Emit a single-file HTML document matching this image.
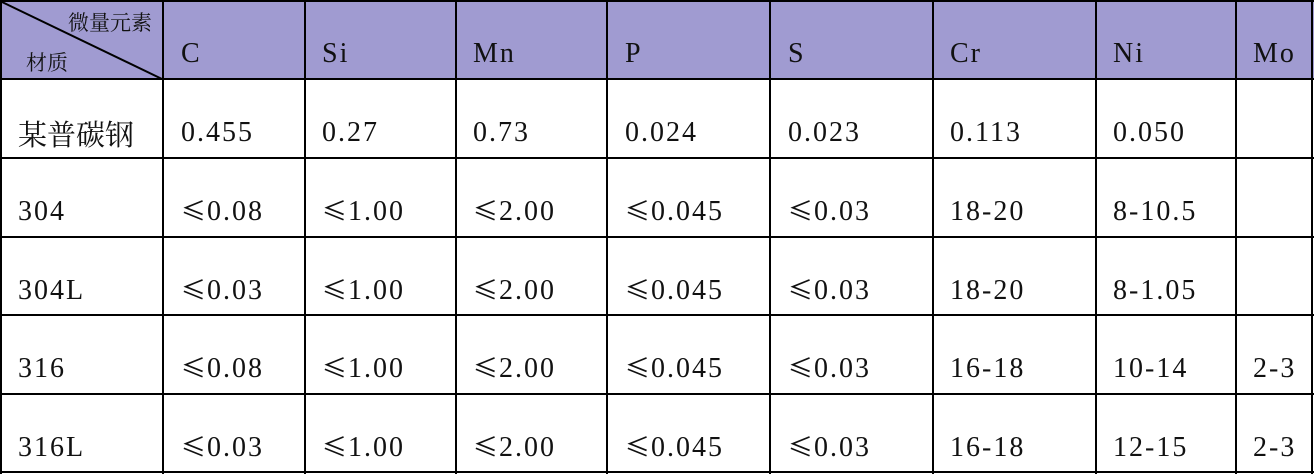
<!DOCTYPE html>
<html><head><meta charset="utf-8"><style>
body{margin:0;width:1314px;height:474px;background:#fff;position:relative;overflow:hidden}
.h{position:absolute;left:0;top:0;width:1314px;height:80px;background:#a09bd1}
.v,.r{position:absolute;background:#000}
.v{width:2px;top:0;height:474px}
.r{height:2px;left:0;width:1314px}
.t{position:absolute;font-family:"Liberation Serif","Noto Serif CJK SC",serif;font-size:28px;letter-spacing:2px;color:#111;line-height:30px;white-space:nowrap}
.c{font-family:"Noto Serif CJK SC","Noto Sans CJK SC",serif;letter-spacing:0}
.le{font-family:"Noto Sans CJK SC",sans-serif;font-size:25px;line-height:1;letter-spacing:1px}
</style></head><body>
<div class="h"></div>
<div class="v" style="left:0"></div><div class="v" style="left:162px"></div><div class="v" style="left:304px"></div><div class="v" style="left:455px"></div><div class="v" style="left:606px"></div><div class="v" style="left:769px"></div><div class="v" style="left:932px"></div><div class="v" style="left:1095px"></div><div class="v" style="left:1235px"></div><div class="v" style="left:1311px"></div>
<div class="r" style="top:0"></div><div class="r" style="top:78px"></div><div class="r" style="top:157px"></div><div class="r" style="top:236px"></div><div class="r" style="top:314px"></div><div class="r" style="top:393px"></div><div class="r" style="top:471px"></div>
<svg style="position:absolute;left:0;top:0" width="165" height="80"><line x1="2" y1="2" x2="162" y2="79" stroke="#000" stroke-width="2"/></svg>
<div class="t c" style="left:68px;top:7px;font-size:21px">微量元素</div>
<div class="t c" style="left:26px;top:47px;font-size:21px">材质</div>
<div class="t" style="left:181px;top:39px">C</div><div class="t" style="left:322px;top:39px">Si</div><div class="t" style="left:473px;top:39px">Mn</div><div class="t" style="left:625px;top:39px">P</div><div class="t" style="left:788px;top:39px">S</div><div class="t" style="left:950px;top:39px">Cr</div><div class="t" style="left:1113px;top:39px">Ni</div><div class="t" style="left:1253px;top:39px">Mo</div>
<div class="t c" style="left:18px;top:117px;font-size:29px;line-height:34px">某普碳钢</div>
<div class="t" style="left:181px;top:118px">0.455</div><div class="t" style="left:322px;top:118px">0.27</div><div class="t" style="left:473px;top:118px">0.73</div><div class="t" style="left:625px;top:118px">0.024</div><div class="t" style="left:788px;top:118px">0.023</div><div class="t" style="left:950px;top:118px">0.113</div><div class="t" style="left:1113px;top:118px">0.050</div>

<div class="t" style="left:18px;top:197px">304</div><div class="t" style="left:181px;top:197px"><span class="le">≤</span>0.08</div><div class="t" style="left:322px;top:197px"><span class="le">≤</span>1.00</div><div class="t" style="left:473px;top:197px"><span class="le">≤</span>2.00</div><div class="t" style="left:625px;top:197px"><span class="le">≤</span>0.045</div><div class="t" style="left:788px;top:197px"><span class="le">≤</span>0.03</div><div class="t" style="left:950px;top:197px">18-20</div><div class="t" style="left:1113px;top:197px">8-10.5</div>

<div class="t" style="left:18px;top:276px">304L</div><div class="t" style="left:181px;top:276px"><span class="le">≤</span>0.03</div><div class="t" style="left:322px;top:276px"><span class="le">≤</span>1.00</div><div class="t" style="left:473px;top:276px"><span class="le">≤</span>2.00</div><div class="t" style="left:625px;top:276px"><span class="le">≤</span>0.045</div><div class="t" style="left:788px;top:276px"><span class="le">≤</span>0.03</div><div class="t" style="left:950px;top:276px">18-20</div><div class="t" style="left:1113px;top:276px">8-1.05</div>

<div class="t" style="left:18px;top:354px">316</div><div class="t" style="left:181px;top:354px"><span class="le">≤</span>0.08</div><div class="t" style="left:322px;top:354px"><span class="le">≤</span>1.00</div><div class="t" style="left:473px;top:354px"><span class="le">≤</span>2.00</div><div class="t" style="left:625px;top:354px"><span class="le">≤</span>0.045</div><div class="t" style="left:788px;top:354px"><span class="le">≤</span>0.03</div><div class="t" style="left:950px;top:354px">16-18</div><div class="t" style="left:1113px;top:354px">10-14</div><div class="t" style="left:1253px;top:354px">2-3</div>

<div class="t" style="left:18px;top:433px">316L</div><div class="t" style="left:181px;top:433px"><span class="le">≤</span>0.03</div><div class="t" style="left:322px;top:433px"><span class="le">≤</span>1.00</div><div class="t" style="left:473px;top:433px"><span class="le">≤</span>2.00</div><div class="t" style="left:625px;top:433px"><span class="le">≤</span>0.045</div><div class="t" style="left:788px;top:433px"><span class="le">≤</span>0.03</div><div class="t" style="left:950px;top:433px">16-18</div><div class="t" style="left:1113px;top:433px">12-15</div><div class="t" style="left:1253px;top:433px">2-3</div>
</body></html>
